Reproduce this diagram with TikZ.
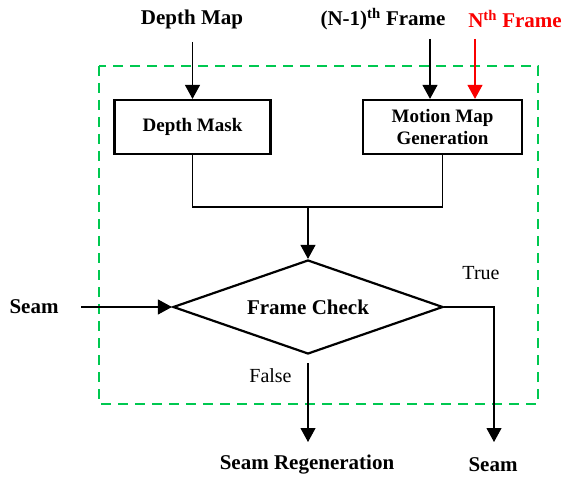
\documentclass[tikz,border=0pt]{standalone}
\usepackage{fontspec}
\setmainfont{Liberation Serif}
\usetikzlibrary{shapes.geometric,arrows.meta}
\definecolor{dgreen}{RGB}{0,200,80}
\definecolor{dred}{RGB}{250,0,0}
\begin{document}
\begin{tikzpicture}[x=1pt,y=-1pt,
  lbl/.style={font=\fontsize{21}{25}\selectfont\bfseries, inner sep=0pt},
  plain/.style={font=\fontsize{20}{24}\selectfont, inner sep=0pt},
  boxnode/.style={draw, line width=2.2pt, font=\fontsize{19}{22}\selectfont\bfseries, align=center, inner sep=0pt},
  arr/.style={line width=1.1pt, -{Triangle[width=15pt,length=14pt]}},
  ln/.style={line width=1.1pt}]
\useasboundingbox (0,0) rectangle (567,478);
% green dashed frame
\draw[dgreen, line width=2.6pt, dash pattern=on 10pt off 7pt] (99,66) rectangle (538,404);
% labels
\node[lbl] (dm) at (192,19) {Depth Map};
\node[lbl] (n1) at (383,19) {(N-1)\textsuperscript{th} Frame};
\node[lbl, text=dred] (nf) at (515,19) {N\textsuperscript{th} Frame};
\node[lbl] (seamin) at (34,307) {Seam};
\node[lbl] (regen) at (307,465) {Seam Regeneration};
\node[lbl] (seamout) at (493,465) {Seam};
\node[plain] (true) at (481,273) {True};
\node[plain] (false) at (270.5,376) {False};
% boxes
\node[boxnode, minimum width=156pt, minimum height=54pt] (mask) at (192.5,127) {Depth Mask};
\node[boxnode, minimum width=159pt, minimum height=54pt] (motion) at (442.5,127) {Motion Map\\Generation};
\node[draw, diamond, line width=2.2pt, aspect=2.9, minimum width=270pt, minimum height=94pt, inner sep=0pt,
      font=\fontsize{21}{25}\selectfont\bfseries] (check) at (308,307) {Frame Check};
% coordinates
\coordinate (dmA) at (192.5,42);
\coordinate (n1A) at (430,39);
\coordinate (nfA) at (475,39);
\coordinate (join) at (308,207);
\coordinate (seamA) at (81,307);
\coordinate (trueC) at (494,307);
\coordinate (trueEnd) at (494,442);
\coordinate (falseA) at (308,363);
\coordinate (falseEnd) at (308,442);
% connectors
\draw[arr] (dmA) -- (mask.north);
\draw[arr] (n1A) -- (n1A |- motion.north);
\draw[arr, dred] (nfA) -- (nfA |- motion.north);
\draw[ln] (mask.south) |- (join) -| (motion.south);
\draw[arr] (join) -- (check.north);
\draw[arr] (seamA) -- (check.west);
\draw[arr] (check.east) -- (trueC) -- (trueEnd);
\draw[arr] (falseA) -- (falseEnd);
\end{tikzpicture}
\end{document}
